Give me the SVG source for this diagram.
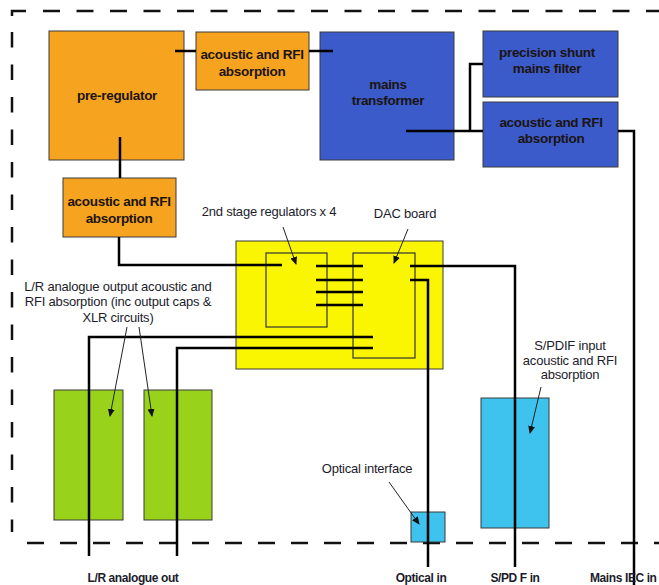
<svg xmlns="http://www.w3.org/2000/svg" width="659" height="585" viewBox="0 0 659 585">
<defs>
<marker id="ah" markerWidth="8" markerHeight="8" refX="7" refY="4" orient="auto" markerUnits="userSpaceOnUse">
<path d="M0,0.5 L8,4 L0,7.5 Z" fill="#111"/>
</marker>
<style>
.box{stroke:#3a3a3a;stroke-width:1}
.or{fill:#F6A31F}
.bl{fill:#3B5BCB}
.ye{fill:#FAF500}
.gr{fill:#98D21B}
.lb{fill:#3DC3EE}
.inner{fill:none;stroke:#333;stroke-width:1.2}
.wire{fill:none;stroke:#000;stroke-width:2.5}
.dash{fill:none;stroke:#111;stroke-width:2.5}
.arr{fill:none;stroke:#222;stroke-width:1;marker-end:url(#ah)}
.bt{font-family:"Liberation Sans",Arial,sans-serif;font-weight:bold;font-size:13.5px;fill:#1c1410;text-anchor:middle;letter-spacing:-0.3px}
.lt{font-family:"Liberation Sans",Arial,sans-serif;font-size:13px;fill:#1c1c2c;text-anchor:middle;letter-spacing:-0.2px}
.ot{font-family:"Liberation Sans",Arial,sans-serif;font-weight:bold;font-size:12px;fill:#1c1c2c;text-anchor:middle;letter-spacing:-0.4px}
</style>
</defs>
<rect width="659" height="585" fill="#fff"/>
<g id="border">
<path class="dash" d="M12,16 L12,11 L26,11"/>
<path class="dash" d="M43,11 L659,11" stroke-dasharray="17 16.5"/>
<path class="dash" d="M12,32 L12,532" stroke-dasharray="15.5 17"/>
<path class="dash" d="M27,543 L659,543" stroke-dasharray="17 16"/>
</g>
<g id="pre-regulator"><rect class="box or" x="49" y="31" width="135" height="129"/><text class="bt" x="117" y="100">pre-regulator</text></g>
<g id="acoustic-top"><rect class="box or" x="196" y="32" width="113" height="58"/><text class="bt" x="252" y="59">acoustic and RFI</text><text class="bt" x="252" y="76">absorption</text></g>
<g id="acoustic-left"><rect class="box or" x="63" y="178" width="113" height="59"/><text class="bt" x="119" y="206">acoustic and RFI</text><text class="bt" x="119" y="223">absorption</text></g>
<g id="mains-transformer"><rect class="box bl" x="320" y="32" width="134" height="128"/><text class="bt" x="388" y="89">mains</text><text class="bt" x="388" y="105">transformer</text></g>
<g id="precision-shunt"><rect class="box bl" x="483" y="31" width="135" height="66"/><text class="bt" x="547" y="57">precision shunt</text><text class="bt" x="547" y="73">mains filter</text></g>
<g id="acoustic-right"><rect class="box bl" x="483" y="102" width="135" height="65"/><text class="bt" x="551" y="127">acoustic and RFI</text><text class="bt" x="551" y="143">absorption</text></g>
<g id="regulator-board"><rect class="box ye" x="236" y="241" width="207" height="128"/><rect class="inner" x="266" y="253" width="61" height="74"/><rect class="inner" x="353" y="253" width="62" height="105"/></g>
<g id="analogue-left"><rect class="box gr" x="54" y="390" width="69" height="130"/></g>
<g id="analogue-right"><rect class="box gr" x="144" y="390" width="68" height="130"/></g>
<g id="spdif-box"><rect class="box lb" x="481" y="398" width="68" height="130"/></g>
<g id="optical-box"><rect class="box lb" x="411" y="512" width="34" height="30"/></g>
<g id="connectors">
<path class="wire" d="M175,51 L196,51"/>
<path class="wire" d="M309,51 L333,51"/>
<path class="wire" d="M120,137 L120,178"/>
<path class="wire" d="M119,237 L119,265 L282,265"/>
<path class="wire" d="M406,131 L483,131"/>
<path class="wire" d="M470,131 L470,64 L483,64"/>
<path class="wire" d="M618,131 L634,131 L634,585"/>
<path class="wire" d="M316,266 L363,266 M316,280 L363,280 M316,292 L363,292 M316,305 L363,305"/>
<path class="wire" d="M373,337 L89,337 L89,556"/>
<path class="wire" d="M373,348 L177,348 L177,556"/>
<path class="wire" d="M410,266 L515,266 L515,567"/>
<path class="wire" d="M410,280 L428,280 L428,567"/>
<path class="arr" d="M283,227 L296,264"/>
<path class="arr" d="M408,229 L394,263"/>
<path class="arr" d="M127,327 L110,416"/>
<path class="arr" d="M139,327 L152,416"/>
<path class="arr" d="M541,387 L530,433"/>
<path class="arr" d="M389,482 L419,524"/>
</g>
<g id="labels">
<text class="lt" x="269" y="216">2nd stage regulators x 4</text>
<text class="lt" x="405" y="218">DAC board</text>
<text class="lt" x="118" y="291">L/R analogue output acoustic and</text>
<text class="lt" x="118" y="306">RFI absorption (inc output caps &amp;</text>
<text class="lt" x="118" y="322">XLR circuits)</text>
<text class="lt" x="570" y="350">S/PDIF input</text>
<text class="lt" x="570" y="365">acoustic and RFI</text>
<text class="lt" x="570" y="379">absorption</text>
<text class="lt" x="367" y="473">Optical interface</text>
<text class="ot" x="133" y="582">L/R analogue out</text>
<text class="ot" x="421" y="582">Optical in</text>
<text class="ot" x="515" y="582">S/PD F in</text>
<text class="ot" x="590" y="582" style="text-anchor:start">Mains IEC in</text>
</g>
</svg>
